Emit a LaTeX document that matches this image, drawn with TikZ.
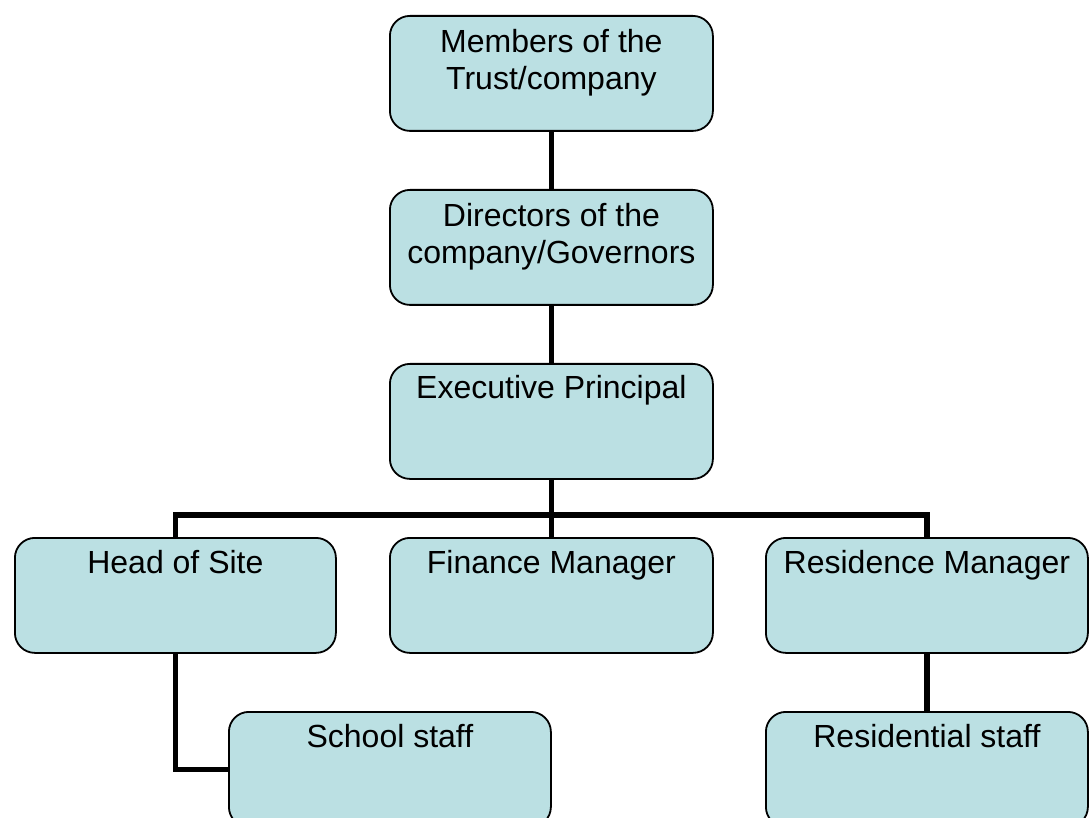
\documentclass[tikz,border=0pt]{standalone}
\usepackage{fontspec}
\setmainfont{Liberation Sans}
\begin{document}
\begin{tikzpicture}[x=1pt,y=-1pt,
  box/.style={draw=black, line width=1.8pt, fill=boxfill, rounded corners=20pt,
    minimum width=323pt, minimum height=115pt, inner sep=0pt, anchor=north west},
  lbl/.style={anchor=base, align=center, font=\fontsize{32}{37}\selectfont, inner sep=0pt},
  link/.style={line width=5.5pt, line join=miter}]
\definecolor{boxfill}{HTML}{BBE0E3}
\clip (0,0) rectangle (1090,818);
\fill[white] (0,0) rectangle (1090,818);

% boxes
\node[box] (mem) at (389,15) {};
\node[box] (dir) at (389,189) {};
\node[box] (exe) at (389,363) {};
\node[box, minimum width=321pt] (hos) at (14,537) {};
\node[box] (fin) at (389,537) {};
\node[box, minimum width=322pt] (res) at (765,537) {};
\node[box, minimum width=322pt] (sch) at (228,711) {};
\node[box, minimum width=322pt] (rst) at (765,711) {};

% connectors
\coordinate (bus) at (550.5,515);
\draw[link] (mem.south) -- (dir.north);
\draw[link] (dir.south) -- (exe.north);
\draw[link] (exe.south) -- (fin.north);
\draw[link] (hos.north) |- (bus);
\draw[link] (res.north) |- (bus);
\draw[link] (hos.south) |- (sch.west);
\draw[link] (res.south) -- (rst.north);

% labels (two-line labels sit on the baseline of their last line)
\node[lbl] (tmem) at ([yshift=-75pt]mem.north) {Members of the\\Trust/company};
\node[lbl] (tdir) at ([yshift=-75pt]dir.north) {Directors of the\\company/Governors};
\node[lbl] (texe) at ([yshift=-35pt]exe.north) {Executive Principal};
\node[lbl] (thos) at ([yshift=-36pt]hos.north) {Head of Site};
\node[lbl] (tfin) at ([yshift=-36pt]fin.north) {Finance Manager};
\node[lbl] (tres) at ([yshift=-36pt]res.north) {Residence Manager};
\node[lbl] (tsch) at ([yshift=-36pt]sch.north) {School staff};
\node[lbl] (trst) at ([yshift=-36pt]rst.north) {Residential staff};
\end{tikzpicture}
\end{document}
